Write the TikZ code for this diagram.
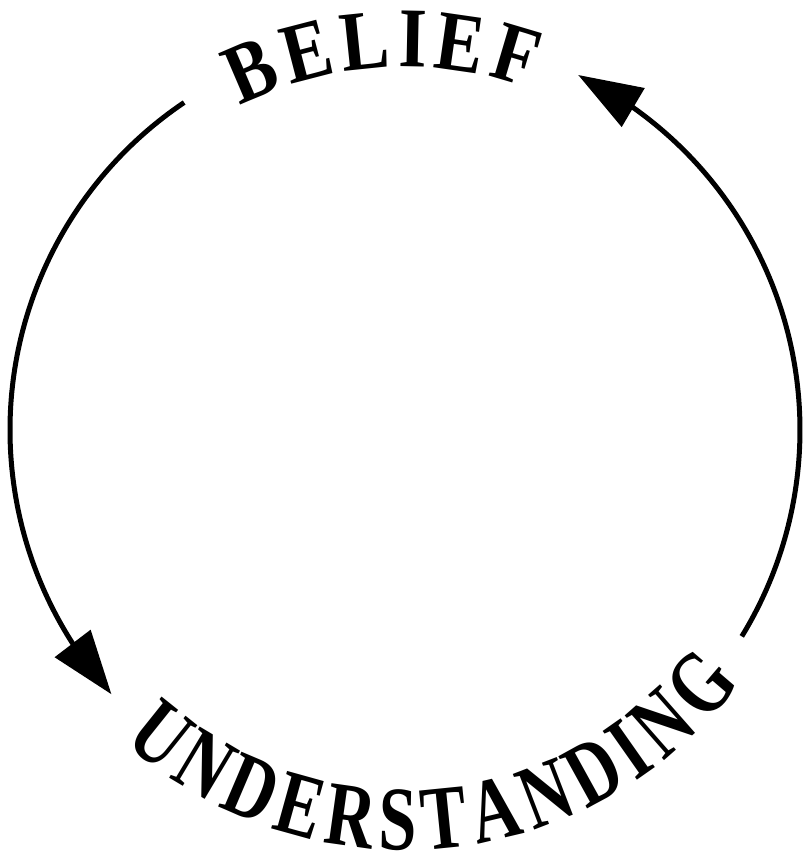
\documentclass[tikz,border=0pt]{standalone}
\usepackage{fontspec}
\newfontfamily\beliefFamily{Liberation Serif}[FakeStretch=0.85]
\newfontfamily\underFamily{Liberation Serif}[FakeStretch=0.75]
\newcommand\beliefFont{\beliefFamily\bfseries\fontsize{85}{90}\selectfont}
\newcommand\underFont{\underFamily\bfseries\fontsize{91}{100}\selectfont}
\usetikzlibrary{arrows.meta,bending,decorations.text}
\begin{document}
\begin{tikzpicture}[x=1pt,y=1pt,
  cycleline/.style={line width=5pt, -{Triangle[length=64pt,width=44pt]}},
  toplabel/.style={decorate,decoration={text along path,text={|\beliefFont|BELIEF},text align=fit to path}},
  bottomlabel/.style={decorate,decoration={text along path,text={|\underFont|UNDERSTANDING},text align=fit to path}}
]
\useasboundingbox (0,0) rectangle (804,860);
\coordinate (c) at (405,430);
\draw[cycleline] (c) ++(124:395) arc[start angle=124,end angle=222,radius=395];
\draw[cycleline] (c) ++(-31.5:395) arc[start angle=-31.5,end angle=64,radius=395];
\path[toplabel] (c) ++(117:363) arc[start angle=117,end angle=70,radius=363];
\path[bottomlabel] (c) ++(228:420) arc[start angle=228,end angle=323,radius=420];
\end{tikzpicture}
\end{document}
